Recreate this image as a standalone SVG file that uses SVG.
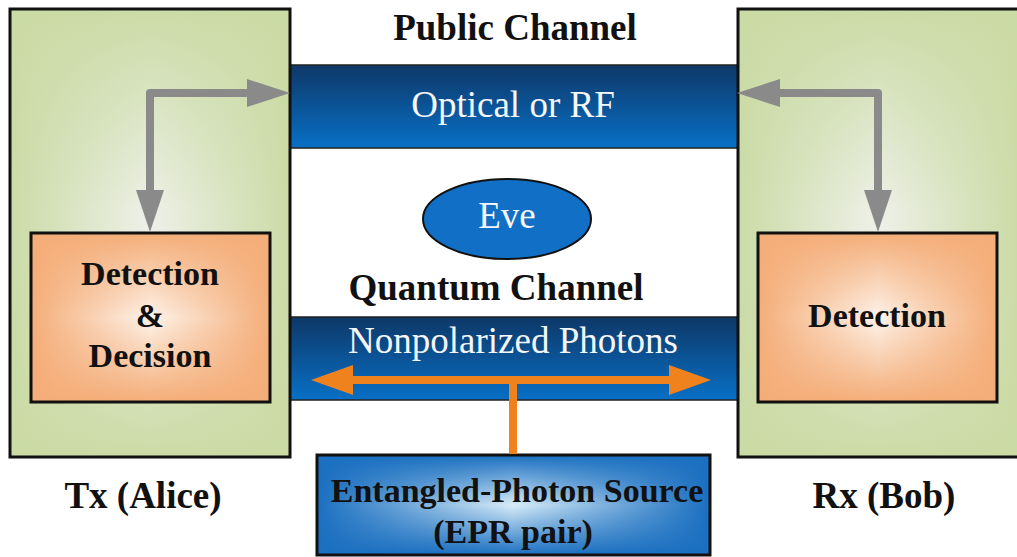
<svg xmlns="http://www.w3.org/2000/svg" width="1017" height="557" viewBox="0 0 1017 557">
  <defs>
    <!-- box fills: horizontal base plus vertical edge overlay gives a box-shaped glow -->
    <linearGradient id="greenH" x1="0" y1="0" x2="1" y2="0">
      <stop offset="0" stop-color="#cbdba6"/>
      <stop offset="0.5" stop-color="#eef0e8"/>
      <stop offset="1" stop-color="#cbdba6"/>
    </linearGradient>
    <linearGradient id="greenV" x1="0" y1="0" x2="0" y2="1">
      <stop offset="0" stop-color="#cbdba6" stop-opacity="1"/>
      <stop offset="0.45" stop-color="#cbdba6" stop-opacity="0"/>
      <stop offset="0.55" stop-color="#cbdba6" stop-opacity="0"/>
      <stop offset="1" stop-color="#cbdba6" stop-opacity="1"/>
    </linearGradient>
    <linearGradient id="orangeH" x1="0" y1="0" x2="1" y2="0">
      <stop offset="0" stop-color="#f4ad78"/>
      <stop offset="0.5" stop-color="#fdf3ea"/>
      <stop offset="1" stop-color="#f4ad78"/>
    </linearGradient>
    <linearGradient id="orangeV" x1="0" y1="0" x2="0" y2="1">
      <stop offset="0" stop-color="#f4ad78" stop-opacity="1"/>
      <stop offset="0.5" stop-color="#f4ad78" stop-opacity="0"/>
      <stop offset="1" stop-color="#f4ad78" stop-opacity="1"/>
    </linearGradient>
    <linearGradient id="blueH" x1="0" y1="0" x2="1" y2="0">
      <stop offset="0" stop-color="#1a6fc0"/>
      <stop offset="0.5" stop-color="#d8ecf8"/>
      <stop offset="1" stop-color="#1a6fc0"/>
    </linearGradient>
    <linearGradient id="blueV" x1="0" y1="0" x2="0" y2="1">
      <stop offset="0" stop-color="#1a6fc0" stop-opacity="1"/>
      <stop offset="0.5" stop-color="#1a6fc0" stop-opacity="0"/>
      <stop offset="1" stop-color="#1a6fc0" stop-opacity="1"/>
    </linearGradient>
    <linearGradient id="band" x1="0" y1="0" x2="0" y2="1">
      <stop offset="0" stop-color="#0e3868"/>
      <stop offset="1" stop-color="#0870c6"/>
    </linearGradient>
  </defs>
  <style>
    .frame { stroke: #111; stroke-width: 3; }
    .band { fill: url(#band); stroke: #222; stroke-width: 1.5; }
    text { font-family: "Liberation Serif", "Times New Roman", serif; text-anchor: middle; }
    .title { font-weight: bold; font-size: 37px; fill: #111; }
    .label { font-weight: bold; font-size: 34px; fill: #111; }
    .white { font-size: 37px; fill: #f4f6fa; }
    .gray { stroke: #8a8a8a; stroke-width: 8; fill: none; stroke-linejoin: round; }
    .grayhead { fill: #8a8a8a; }
    .orange { stroke: #f0821e; stroke-width: 8; fill: none; }
    .orangehead { fill: #f0821e; }
  </style>

  <rect width="1017" height="557" fill="#ffffff"/>

  <!-- channels between the two stations -->
  <g id="public-channel">
    <rect class="band" x="290" y="65" width="448" height="83"/>
    <text class="white" x="513" y="117">Optical or RF</text>
    <text class="title" x="515" y="40">Public Channel</text>
  </g>
  <g id="quantum-channel">
    <rect class="band" x="290" y="317" width="448" height="83"/>
    <text class="white" x="513" y="353">Nonpolarized Photons</text>
    <text class="title" x="496" y="300">Quantum Channel</text>
  </g>

  <!-- transmitter -->
  <g id="tx-alice">
    <rect x="10" y="9" width="280" height="448" fill="url(#greenH)"/>
    <rect x="10" y="9" width="280" height="448" fill="url(#greenV)" class="frame"/>
    <g id="tx-detection">
      <rect x="31" y="233" width="239" height="169" fill="url(#orangeH)"/>
      <rect x="31" y="233" width="239" height="169" fill="url(#orangeV)" class="frame"/>
      <text class="label" x="150" y="285">Detection</text>
      <text class="label" x="150" y="327">&amp;</text>
      <text class="label" x="150" y="367">Decision</text>
    </g>
    <text class="title" x="143" y="508">Tx (Alice)</text>
  </g>

  <!-- receiver -->
  <g id="rx-bob">
    <rect x="738" y="9" width="281" height="448" fill="url(#greenH)"/>
    <rect x="738" y="9" width="281" height="448" fill="url(#greenV)" class="frame"/>
    <g id="rx-detection">
      <rect x="758" y="233" width="239" height="169" fill="url(#orangeH)"/>
      <rect x="758" y="233" width="239" height="169" fill="url(#orangeV)" class="frame"/>
      <text class="label" x="877" y="327">Detection</text>
    </g>
    <text class="title" x="884" y="508">Rx (Bob)</text>
  </g>

  <!-- eavesdropper -->
  <g id="eve">
    <ellipse cx="507" cy="219" rx="84" ry="40" fill="#1170c6" stroke="#111" stroke-width="2"/>
    <text class="white" x="507" y="228">Eve</text>
  </g>

  <!-- photon source -->
  <g id="epr-source">
    <rect x="317" y="455" width="393" height="100" fill="url(#blueH)"/>
    <rect x="317" y="455" width="393" height="100" fill="url(#blueV)" class="frame"/>
    <text class="label" x="517" y="502">Entangled-Photon Source</text>
    <text class="label" x="513" y="543">(EPR pair)</text>
  </g>

  <!-- connectors -->
  <g id="connectors">
    <polyline class="gray" points="150,192 150,93 249,93"/>
    <polygon class="grayhead" points="136,190 164,190 150,232"/>
    <polygon class="grayhead" points="247,79 247,107 290,93"/>

    <polyline class="gray" points="778,93 878,93 878,192"/>
    <polygon class="grayhead" points="780,79 780,107 737,93"/>
    <polygon class="grayhead" points="864,190 892,190 878,232"/>

    <line class="orange" x1="350" y1="380" x2="672" y2="380"/>
    <polygon class="orangehead" points="353,365 353,395 311,380"/>
    <polygon class="orangehead" points="669,365 669,395 711,380"/>
    <line class="orange" x1="513" y1="380" x2="513" y2="454"/>
  </g>
</svg>
